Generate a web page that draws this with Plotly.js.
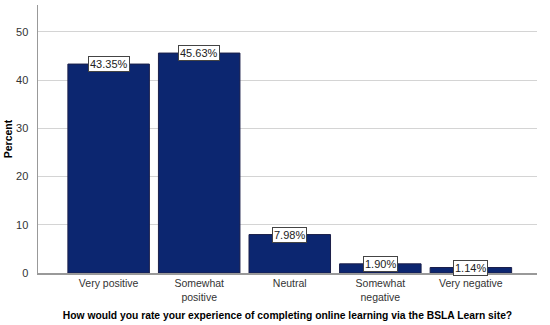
<!DOCTYPE html>
<html><head><meta charset="utf-8">
<script src="https://cdn.plot.ly/plotly-3.0.1.min.js"></script>
<style>html,body{margin:0;padding:0;background:#fff}</style>
</head><body>
<div id="chart" style="width:550px;height:325px"></div>
<script>
var categories = ["Very positive", "Somewhat<br>positive", "Neutral", "Somewhat<br>negative", "Very negative"];
var percents = [43.35, 45.63, 7.98, 1.90, 1.14];
var labels = ["43.35%", "45.63%", "7.98%", "1.90%", "1.14%"];
var yTicks = [0, 10, 20, 30, 40, 50];

var annotations = categories.map(function(c, i){
  return {x: i, y: percents[i], xref: 'x', yref: 'y', text: labels[i], showarrow: false,
    yanchor: 'middle', xanchor: 'center', bgcolor: '#ffffff', bordercolor: '#444444',
    borderwidth: 1, borderpad: 1, font: {family: 'Liberation Sans, Arial, sans-serif', size: 11, color: '#222'}};
});

var data = [{
  type: 'bar', x: [0,1,2,3,4], y: percents,
  marker: {color: '#0c2670', line: {color: '#1b1f4a', width: 1}},
  width: 0.9, hoverinfo: 'none'
}];

var layout = {
  width: 550, height: 325,
  margin: {l: 38, r: 13, t: 5, b: 52},
  paper_bgcolor: '#fff', plot_bgcolor: '#fff',
  showlegend: false,
  font: {family: 'Liberation Sans, Arial, sans-serif', size: 10.5, color: '#333'},
  xaxis: {
    tickmode: 'array', tickvals: [0,1,2,3,4], ticktext: categories,
    range: [-0.78, 4.73], showgrid: false, zeroline: false,
    showline: true, linecolor: '#999', linewidth: 1.5, ticks: '',
    tickfont: {size: 10.5, color: '#333'},
    title: {text: '<b>How would you rate your experience of completing online learning via the BSLA Learn site?</b>',
      font: {size: 10.3, color: '#000'}, standoff: 10}
  },
  yaxis: {
    range: [0, 55.6], tickmode: 'array', tickvals: yTicks,
    showgrid: true, gridcolor: '#d4d4d4', gridwidth: 1, zeroline: false,
    showline: true, linecolor: '#999', linewidth: 1.5, ticks: '',
    ticklabelstandoff: 6,
    tickfont: {size: 11, color: '#333'},
    title: {text: '<b>Percent</b>', font: {size: 10.5, color: '#000'}, standoff: 1}
  },
  annotations: annotations
};
Plotly.newPlot('chart', data, layout, {displayModeBar: false, staticPlot: true});
</script>
</body></html>
